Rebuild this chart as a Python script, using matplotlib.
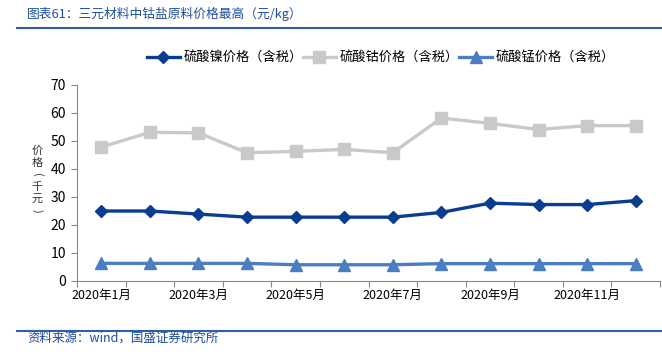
import matplotlib
matplotlib.use("Agg")
import matplotlib.pyplot as plt
import numpy as np

plt.rcParams['font.family'] = ['Noto Sans CJK SC', 'DejaVu Sans']

months = ["2020年1月", "2020年2月", "2020年3月", "2020年4月", "2020年5月", "2020年6月",
          "2020年7月", "2020年8月", "2020年9月", "2020年10月", "2020年11月", "2020年12月"]
nickel = [25.0, 25.0, 23.9, 22.8, 22.8, 22.8, 22.8, 24.5, 27.8, 27.3, 27.3, 28.7]
cobalt = [47.8, 53.1, 52.9, 45.8, 46.3, 47.0, 45.8, 58.2, 56.3, 54.1, 55.5, 55.5]
manganese = [6.3, 6.3, 6.3, 6.3, 5.8, 5.8, 5.8, 6.2, 6.2, 6.2, 6.2, 6.2]

names = ["硫酸镍价格（含税）", "硫酸钴价格（含税）", "硫酸锰价格（含税）"]
ylabel_chars = ["价", "格", "(", "千", "元", ")"]

fig = plt.figure(figsize=(6.62, 3.64), dpi=100)
ax = fig.add_axes([77 / 662, 1 - 281 / 364, (660 - 77) / 662, (281 - 85) / 364])

x = np.arange(len(months))
ax.plot(x, nickel, color="#0A3D91", lw=2.4, marker="D", ms=6.5, label=names[0])
ax.plot(x, cobalt, color="#C9C9C9", lw=2.4, marker="s", ms=8, label=names[1])
ax.plot(x, manganese, color="#4A7DC3", lw=2.4, marker="^", ms=9, label=names[2])

ax.set_xlim(-0.5, len(months) - 0.5)
ax.set_ylim(0, 70)
ax.set_yticks(np.arange(0, 71, 10))

# category boundary ticks, labels on every other month
ax.set_xticks(np.arange(-0.5, len(months), 1.0))
ax.set_xticklabels([])
ax.set_xticks(x[::2], minor=True)
ax.set_xticklabels(months[::2], minor=True)
ax.tick_params(axis="x", which="minor", length=0, pad=6, labelsize=9)
ax.tick_params(axis="x", which="major", length=4, color="#888888")
ax.tick_params(axis="y", length=4, color="#888888", labelsize=10, pad=4)

for s in ["top", "right"]:
    ax.spines[s].set_visible(False)
for s in ["left", "bottom"]:
    ax.spines[s].set_color("#888888")

# vertical y label, one character per row, brackets turned
for i, ch in enumerate(ylabel_chars):
    rot = -90 if ch in "()" else 0
    fig.text(37 / 662, 1 - (151 + i * 12) / 364, ch, ha="center", va="center",
             fontsize=8, rotation=rot, color="#333333")

fig.legend(loc="center", bbox_to_anchor=(381 / 662, 1 - 58 / 364), ncol=3,
           frameon=False, fontsize=9.5, handlelength=2.5, columnspacing=0.0,
           handletextpad=0.3)

# title and source
fig.text(27 / 662, 1 - 14 / 364, "图表61：三元材料中钴盐原料价格最高（元/kg）",
         fontsize=9.2, color="#1F4E9B", va="center", ha="left")
fig.add_artist(plt.Line2D([17 / 662, 1], [1 - 28 / 364] * 2, color="#2E5FA8", lw=1.5))
fig.add_artist(plt.Line2D([17 / 662, 1], [1 - 331 / 364] * 2, color="#2E5FA8", lw=1.5))
fig.text(27 / 662, 1 - 338 / 364, "资料来源：wind，国盛证券研究所",
         fontsize=9, color="#1F4E9B", va="center", ha="left")

fig.savefig("out.png", dpi=100)
